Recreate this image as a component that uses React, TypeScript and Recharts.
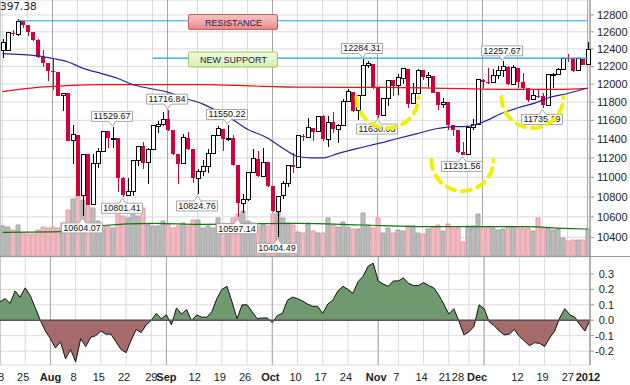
import React from 'react'
import {
  ComposedChart, Bar, Line, Area, XAxis, YAxis, CartesianGrid,
  ReferenceLine, ReferenceDot, Cell,
} from 'recharts'

// ---- data ----
const dates = [
  '7/18','7/19','7/20','7/21','7/22','7/25','7/26','7/27','7/28','7/29',
  '8/1','8/2','8/3','8/4','8/5','8/8','8/9','8/10','8/11','8/12','8/15','8/16','8/17','8/18','8/19','8/22','8/23','8/24','8/25','8/26','8/29','8/30','8/31',
  '9/1','9/2','9/6','9/7','9/8','9/9','9/12','9/13','9/14','9/15','9/16','9/19','9/20','9/21','9/22','9/23','9/26','9/27','9/28','9/29','9/30',
  '10/3','10/4','10/5','10/6','10/7','10/10','10/11','10/12','10/13','10/14','10/17','10/18','10/19','10/20','10/21','10/24','10/25','10/26','10/27','10/28','10/31',
  '11/1','11/2','11/3','11/4','11/7','11/8','11/9','11/10','11/11','11/14','11/15','11/16','11/17','11/18','11/21','11/22','11/23','11/25','11/28','11/29','11/30',
  '12/1','12/2','12/5','12/6','12/7','12/8','12/9','12/12','12/13','12/14','12/15','12/16','12/19','12/20','12/21','12/22','12/23','12/27','12/28','12/29','12/30',
  '1/3',
]

const opens = [
  12385,12385,12587,12572,12724,12681,12593,12501,12303,12240,
  12143,12132,11867,11896,11384,11445,10810,11240,10720,11143,11269,11483,11406,11410,10991,10818,10855,11177,11321,11150,11285,11539,11560,
  11614,11494,11240,11139,11415,11296,10992,11061,11106,11247,11433,11509,11401,11409,11125,10734,10771,11044,11191,11011,11154,
  10913,10655,10809,10940,11123,11103,11433,11416,11519,11478,11644,11397,11577,11505,11542,11809,11914,11707,11869,12209,12231,
  11955,11658,11836,12044,11983,12068,12170,11781,11894,12154,12079,12096,11906,11771,11796,11547,11494,11258,11232,11523,11556,
  12046,12020,12019,12098,12150,12196,11998,12184,12021,11955,11823,11869,11866,11766,12104,12108,12170,12294,12291,12151,12287,
  12218,
]

const highs = [
  12510,12600,12620,12751,12733,12681,12600,12510,12385,12240,
  12284,12140,11905,11905,11550,11445,11245,11240,11244,11300,11490,11483,11529.67,11410,11000,10990,11177,11330,11370,11300,11540,11590,11690,
  11716.84,11494,11240,11450,11470,11296,11080,11180,11290,11440,11540,11509,11550.22,11440,11125,10830,11044,11290,11270,11300,11154,
  10913,10810,10960,11130,11250,11435,11450,11630,11520,11650,11660,11650,11690,11560,11830,11940,11914,11880,12284.31,12265,12231,
  11955,11840,12050,12044,12110,12185,12170,12010,12170,12154,12140,12096,11906,11840,11796,11550,11494,11370,11540,11620,12050,
  12060,12180,12170,12200,12257.67,12200,12220,12184,12120,11955,11930,11950,11900,12104,12130,12180,12295,12340,12300,12300,12287,
  12479,
]

const lows = [
  12290,12380,12550,12547,12643,12550,12490,12290,12193,12036,
  11931,11863,11700,11384,11139,10809,10604.07,10719,10720,11100,11265,11300,11300,10850,10801.41,10812,10810,11120,11090,10930,11285,11460,11540,
  11485,11230,10930,11139,11280,10940,10824.76,11010,11040,11247,11433,11270,11380,11120,10597.14,10640,10760,11044,11005,11000,10900,
  10650,10404.49,10780,10900,11040,11103,11375,11416,11380,11478,11380,11313,11460,11360,11542,11800,11690,11600,11869,12180,11950,
  11630.03,11658,11760,11870,11880,12000,11740,11781,11894,12050,11970,11900,11710,11740,11500,11430,11255,11231.56,11232,11500,11556,
  11960,12000,12019,12060,12080,11990,11998,11960,11930,11800,11823,11840,11735.19,11766,11960,12100,12170,12250,12140,12151,12210,
  12218,
]

const closes = [
  12480,12587.42,12571.91,12724.41,12681.16,12592.8,12501.3,12302.55,12240.11,12143.24,
  12132.49,11866.62,11896.44,11383.68,11444.61,10809.85,11239.77,10719.94,11143.31,11269.02,11482.9,11405.93,11410.21,10990.58,10817.65,10854.65,11176.76,11320.71,11149.82,11284.54,11539.25,11559.95,11613.53,
  11493.57,11240.26,11139.3,11414.86,11295.81,10992.13,11061.12,11105.85,11246.73,11433.18,11509.09,11401.01,11408.66,11124.84,10733.83,10771.48,11043.86,11190.69,11010.9,11153.98,10913.38,
  10655.3,10808.71,10939.95,11123.33,11103.12,11433.18,11416.3,11518.85,11478.13,11644.49,11397,11577.05,11504.62,11541.78,11808.79,11913.62,11706.62,11869.04,12208.55,12231.11,11955.01,
  11657.96,11836.04,12044.47,11983.24,12068.39,12170.18,11780.94,11893.86,12153.68,12078.98,12096.16,11905.59,11770.73,11796.16,11547.31,11493.72,11257.55,11231.78,11523.01,11555.63,12045.68,
  12020.03,12019.42,12097.83,12150.13,12196.37,11997.7,12184.26,12021.39,11954.94,11823.48,11868.81,11866.39,11766.26,12103.58,12107.74,12169.65,12294,12291.35,12151.41,12287.04,12217.56,
  12397.38,
]

// volume, millions of shares
const volumes = [
  300,290,260,310,230,220,220,260,290,280,
  290,280,330,460,570,610,560,500,480,350,
  300,300,280,450,400,380,420,400,480,320,
  300,300,350,320,280,300,330,300,360,360,
  280,300,280,380,300,280,380,420,450,350,
  330,300,320,300,420,440,380,330,310,240,
  230,330,250,230,230,380,310,290,340,290,
  270,270,430,310,280,380,230,280,230,260,
  250,300,300,230,220,270,290,310,250,320,
  280,280,140,300,300,420,280,290,280,260,
  270,290,290,280,280,280,250,380,280,280,
  260,270,180,150,160,160,160,270,
]

const oscillator = [
  0.12,0.14,0.11,0.19,0.15,0.21,0.16,0.08,0.0,-0.07,
  -0.12,-0.18,-0.14,-0.25,-0.19,-0.27,-0.12,-0.17,-0.11,-0.1,
  -0.07,-0.09,-0.09,-0.14,-0.19,-0.21,-0.13,-0.06,-0.08,-0.03,
  0.0,0.045,0.01,0.035,-0.03,0.08,0.04,0.07,-0.005,0.035,
  0.02,0.02,0.055,0.14,0.2,0.22,0.12,0.01,0.1,0.1,
  0.055,0.01,0.015,0.015,-0.015,0.03,0.045,0.13,0.15,0.14,
  0.125,0.105,0.09,0.09,0.045,0.105,0.13,0.19,0.22,0.2,
  0.175,0.25,0.285,0.35,0.37,0.255,0.235,0.22,0.255,0.255,
  0.275,0.24,0.225,0.225,0.245,0.225,0.21,0.165,0.105,0.04,
  0.075,-0.005,-0.095,-0.075,-0.04,0.1,0.075,-0.01,-0.035,-0.07,
  -0.095,-0.09,-0.06,-0.105,-0.135,-0.165,-0.145,-0.15,-0.17,-0.115,
  -0.07,0.015,0.075,0.035,0.02,-0.03,-0.07,0.0,
]

const ma50Points: [string, number][] = [
  ['7/18',12345],['7/27',12320],['8/1',12290],['8/4',12253],['8/9',12180],['8/15',12115],['8/18',12065],
  ['8/23',11995],['8/29',11945],['9/1',11910],['9/7',11850],['9/13',11780],['9/16',11700],['9/21',11610],
  ['9/26',11505],['9/30',11410],['10/5',11305],['10/10',11215],['10/13',11200],['10/17',11200],['10/20',11245],
  ['10/26',11300],['11/1',11350],['11/7',11405],['11/11',11458],['11/17',11512],['11/21',11528],['11/28',11535],
  ['12/1',11580],['12/7',11680],['12/12',11735],['12/16',11800],['12/20',11845],['12/27',11895],['1/3',11956],
]
const ma200Points: [string, number][] = [
  ['7/18',11915],['7/27',11962],['8/4',11982],['8/15',11993],['9/13',11993],['9/22',11985],['9/29',11975],
  ['10/11',11965],['11/2',11962],['11/14',11957],['11/25',11948],['12/12',11940],['12/22',11940],['1/3',11952],
]
const volMaPoints: [string, number][] = [
  ['7/18',237],['8/3',243],['8/8',248],['8/15',305],['8/29',327],['9/13',317],['9/27',323],['10/10',327],
  ['10/27',310],['11/15',293],['11/28',293],['12/14',293],['12/23',277],['1/3',270],
]

const resistance = 12731
const support = 12295

const highTags: [string, number][] = [
  ['8/17', 11529.67], ['9/1', 11716.84], ['9/20', 11550.22], ['10/27', 12284.31], ['12/7', 12257.67],
]
const lowTags: [string, number][] = [
  ['8/9', 10604.07], ['8/19', 10801.41], ['9/12', 10824.76], ['9/22', 10597.14], ['10/4', 10404.49],
  ['11/1', 11630.03], ['11/25', 11231.56], ['12/19', 11735.19],
]
const arcs: [string, number][] = [['11/3', 11856], ['11/25', 11178], ['12/15', 11856]]

const gridTicks = ['7/18','7/25','8/1','8/8','8/15','8/22','8/29','9/1','9/12','9/19','9/26','10/3','10/10','10/17','10/24','11/1','11/7','11/14','11/21','11/28','12/1','12/12','12/19','12/27','1/3']
const monthTicks = ['8/1','9/1','10/3','11/1','12/1','1/3']
const monthNames: Record<string, string> = { '8/1': 'Aug', '9/1': 'Sep', '10/3': 'Oct', '11/1': 'Nov', '12/1': 'Dec', '1/3': '2012' }
const priceTicks = [10400, 10600, 10800, 11000, 11200, 11400, 11600, 11800, 12000, 12200, 12400, 12600, 12800]
const oscTicks = [-0.2, -0.1, 0, 0.1, 0.2, 0.3]

// ---- layout ----
const FONT = '"Liberation Sans", Arial, sans-serif'
const W = 630
const TOP_H = 256
const LOW_H = 128
const AXIS_W = 40
const PRICE_DOMAIN: [number, number] = [10220, 12980]
const OSC_DOMAIN: [number, number] = [-0.29, 0.41]
const OSC_PLOT_H = LOW_H - 20
const zeroFrac = OSC_DOMAIN[1] / (OSC_DOMAIN[1] - OSC_DOMAIN[0])

const lookup = (pts: [string, number][]) => new Map(pts)
const ma50Map = lookup(ma50Points)
const ma200Map = lookup(ma200Points)
const volMaMap = lookup(volMaPoints)

const data = dates.map((date, i) => ({
  date,
  open: opens[i],
  high: highs[i],
  low: lows[i],
  close: closes[i],
  range: [lows[i], highs[i]],
  volume: volumes[i],
  osc: oscillator[i],
  ma50: ma50Map.get(date) ?? null,
  ma200: ma200Map.get(date) ?? null,
  volMa: volMaMap.get(date) ?? null,
}))

const RED = '#d4003a'

function Candle(props: any) {
  const { x, y, width, height, payload } = props
  if (!payload || height == null) return null
  const { open, close, high, low } = payload
  const span = Math.log(high / low)
  const yOf = (v: number) => (span > 0 ? y + (height * Math.log(high / v)) / span : y)
  const up = close >= open
  const top = yOf(Math.max(open, close))
  const bot = yOf(Math.min(open, close))
  const mid = x + width / 2
  const c = up ? '#000' : RED
  return (
    <g shapeRendering="crispEdges">
      <line x1={mid} x2={mid} y1={y} y2={y + height} stroke={c} />
      <rect x={x} y={top} width={width} height={Math.max(bot - top, 1)} fill={up ? '#fff' : RED} stroke={c} strokeWidth={up ? 1 : 0} />
    </g>
  )
}

function Tag({ cx, cy, text, below }: any) {
  const w = 41
  const x0 = cx - w / 2 - 0.5
  const x1 = x0 + w
  let d: string
  let base: number
  if (below) {
    const yt = cy + 6.5
    const yb = yt + 10
    d = `M${x0},${yt} H${cx - 3.5} L${cx},${cy + 1.5} L${cx + 3.5},${yt} H${x1} V${yb} H${x0} Z`
    base = yb - 2
  } else {
    const yb = cy - 5.5
    const yt = yb - 10
    d = `M${x0},${yt} H${x1} V${yb} H${cx + 3.5} L${cx},${cy - 1} L${cx - 3.5},${yb} H${x0} Z`
    base = yb - 2
  }
  return (
    <g>
      <path d={d} fill="#fff" stroke="#a8a8a8" strokeWidth={1} />
      <text x={cx - 0.5} y={base} textAnchor="middle" fontSize={9} fontFamily={FONT} fill="#111">{text}</text>
    </g>
  )
}

function Banner({ cx, cy, text, fillId, stroke }: any) {
  const w = 89
  const h = 15
  return (
    <g>
      <rect x={cx - w / 2 + 0.5} y={cy - h / 2 + 0.5} width={w} height={h} rx={1.5} fill={`url(#${fillId})`} stroke={stroke} />
      <text x={cx + 1} y={cy + 4} textAnchor="middle" fontSize={9} fontFamily={FONT} fill="#1a1a50">{text}</text>
    </g>
  )
}

function DashArc({ cx, cy }: any) {
  const r = 31
  return (
    <path
      d={`M${cx - r},${cy} A${r},${r} 0 0 0 ${cx + r},${cy}`}
      fill="none" stroke="#f2f000" strokeWidth={4} strokeDasharray="9 7" strokeLinecap="round"
    />
  )
}

// label baseline sits a few pixels above the bottom of the oscillator chart
const TICK_BASELINE = LOW_H - 4
const tickNudge: Record<string, number> = { '8/1': 0, '8/29': 0, '9/1': 0, '11/21': -4, '11/28': -11, '12/1': -7 }

function DateTick({ x, payload }: any) {
  const d = payload.value as string
  const m = monthNames[d]
  const dx = tickNudge[d] ?? -2
  return (
    <text x={x + dx} y={TICK_BASELINE} textAnchor="middle" fontSize={11} fontFamily={FONT} fontWeight={m ? 'bold' : 'normal'} fill="#222">
      {m ?? d.split('/')[1]}
    </text>
  )
}

function OscTick({ x, y, payload }: any) {
  return (
    <text x={x + 17} y={y} dy="0.355em" textAnchor="end" fontSize={11} fontFamily={FONT} fill="#222">
      {Number(payload.value).toFixed(1)}
    </text>
  )
}

export default function App() {
  return (
    <div style={{ position: 'absolute', left: 0, top: 0, width: W, height: TOP_H + 1 + LOW_H, background: '#fff', overflow: 'hidden' }}>
      {/* price panel */}
      <div style={{ position: 'relative', width: W, height: TOP_H, borderBottom: '1px solid #9a9a9a' }}>
        {/* back layer: grid, axis, volume */}
        <div style={{ position: 'absolute', left: 0, top: 0 }}>
          <ComposedChart width={W} height={TOP_H} data={data} margin={{ top: 0, right: 0, bottom: 0, left: 0 }} barCategoryGap={0}>
            <XAxis xAxisId="w" dataKey="date" ticks={gridTicks} interval={0} hide />
            <XAxis xAxisId="m" dataKey="date" ticks={monthTicks} interval={0} hide />
            <YAxis
              yAxisId="p" orientation="right" scale="log" domain={PRICE_DOMAIN} allowDataOverflow
              ticks={priceTicks} interval={0} width={AXIS_W} tickSize={4} tickMargin={3}
              axisLine={{ stroke: '#9a9a9a' }} tickLine={{ stroke: '#9a9a9a' }}
              tick={{ fontSize: 11, fill: '#222', fontFamily: FONT }}
            />
            <YAxis yAxisId="v" hide domain={[0, 2560]} allowDataOverflow />
            <CartesianGrid xAxisId="w" yAxisId="p" stroke="#dadada" />
            <CartesianGrid xAxisId="m" yAxisId="p" stroke="#a6a6a6" horizontal={false} />
            <Bar xAxisId="w" yAxisId="v" dataKey="volume" barSize={4} strokeWidth={1} isAnimationActive={false}>
              {data.map((d) => (
                <Cell key={d.date} fill={d.close >= d.open ? '#bdbdbd' : '#f2bcc3'} stroke={d.close >= d.open ? '#a3a3a3' : '#e29aa5'} />
              ))}
            </Bar>
            <Line xAxisId="w" yAxisId="v" dataKey="volMa" type="monotone" connectNulls dot={false} stroke="#117711" strokeWidth={1.2} isAnimationActive={false} />
          </ComposedChart>
        </div>
        {/* front layer: candles, averages, annotations */}
        <div style={{ position: 'absolute', left: 0, top: 0 }}>
          <ComposedChart width={W} height={TOP_H} data={data} margin={{ top: 0, right: AXIS_W, bottom: 0, left: 0 }} barCategoryGap={0}>
            <defs>
              <linearGradient id="resFill" x1="0" y1="0" x2="0" y2="1">
                <stop offset="0" stopColor="#f6c2c2" />
                <stop offset="0.5" stopColor="#f3aaaa" />
                <stop offset="1" stopColor="#e48686" />
              </linearGradient>
              <linearGradient id="supFill" x1="0" y1="0" x2="0" y2="1">
                <stop offset="0" stopColor="#f2fbdc" />
                <stop offset="1" stopColor="#d6efae" />
              </linearGradient>
            </defs>
            <XAxis dataKey="date" hide />
            <YAxis scale="log" domain={PRICE_DOMAIN} allowDataOverflow hide />
            <Line dataKey="ma200" type="monotone" connectNulls dot={false} stroke="#ee1111" strokeWidth={1.2} isAnimationActive={false} />
            <Line dataKey="ma50" type="monotone" connectNulls dot={false} stroke="#26269a" strokeWidth={1.2} isAnimationActive={false} />
            <Bar dataKey="range" barSize={4} shape={Candle} isAnimationActive={false} />
            <ReferenceLine segment={[{ x: '7/21', y: resistance }, { x: '1/3', y: resistance }]} stroke="#14a6e8" strokeWidth={1.2} />
            <ReferenceLine segment={[{ x: '8/29', y: support }, { x: '1/3', y: support }]} stroke="#14a6e8" strokeWidth={1.2} />
            <ReferenceDot x="9/21" y={resistance} shape={(p: any) => <Banner cx={p.cx} cy={p.cy + 0.8} text="RESISTANCE" fillId="resFill" stroke="#cc5c5c" />} />
            <ReferenceDot x="9/21" y={support} shape={(p: any) => <Banner cx={p.cx} cy={p.cy + 1} text="NEW SUPPORT" fillId="supFill" stroke="#98c868" />} />
            {highTags.map(([d, v]) => (
              <ReferenceDot key={'h' + d} x={d} y={v} shape={(p: any) => <Tag cx={p.cx} cy={p.cy} text={v.toFixed(2)} />} />
            ))}
            {lowTags.map(([d, v]) => (
              <ReferenceDot key={'l' + d} x={d} y={v} shape={(p: any) => <Tag cx={p.cx} cy={p.cy} text={v.toFixed(2)} below />} />
            ))}
            {arcs.map(([d, v]) => (
              <ReferenceDot key={'a' + d} x={d} y={v} shape={(p: any) => <DashArc cx={p.cx} cy={p.cy} />} />
            ))}
          </ComposedChart>
        </div>
        <div style={{ position: 'absolute', left: 0, top: 0, fontFamily: '"DejaVu Sans", Verdana, sans-serif', fontSize: 10.5, color: '#222', lineHeight: '13px' }}>
          397.38
        </div>
      </div>

      {/* oscillator panel */}
      <ComposedChart width={W} height={LOW_H} data={data} margin={{ top: 0, right: 0, bottom: 0, left: 0 }}>
        <defs>
          <linearGradient id="oscFill" gradientUnits="userSpaceOnUse" x1="0" y1="0" x2="0" y2={OSC_PLOT_H}>
            <stop offset={zeroFrac} stopColor="#6f9a6f" />
            <stop offset={zeroFrac} stopColor="#a56a6a" />
          </linearGradient>
        </defs>
        <XAxis
          xAxisId="w" dataKey="date" ticks={gridTicks} interval={0} height={20}
          tickLine={false} axisLine={{ stroke: '#bdbdbd' }} tick={<DateTick />}
        />
        <XAxis xAxisId="m" dataKey="date" ticks={monthTicks} interval={0} hide />
        <YAxis
          orientation="right" domain={OSC_DOMAIN} allowDataOverflow ticks={oscTicks} interval={0}
          width={AXIS_W} tickSize={4} tickMargin={3}
          axisLine={{ stroke: '#9a9a9a' }} tickLine={{ stroke: '#9a9a9a' }} tick={<OscTick />}
        />
        <CartesianGrid xAxisId="w" stroke="#dadada" />
        <CartesianGrid xAxisId="m" stroke="#a6a6a6" horizontal={false} />
        <Area
          xAxisId="w" dataKey="osc" type="linear" baseValue={0} stroke="#111" strokeWidth={1}
          fill="url(#oscFill)" fillOpacity={1} dot={false} activeDot={false} isAnimationActive={false}
        />
        <ReferenceLine xAxisId="w" y={0} stroke="#555" strokeWidth={1.5} />
      </ComposedChart>
    </div>
  )
}
